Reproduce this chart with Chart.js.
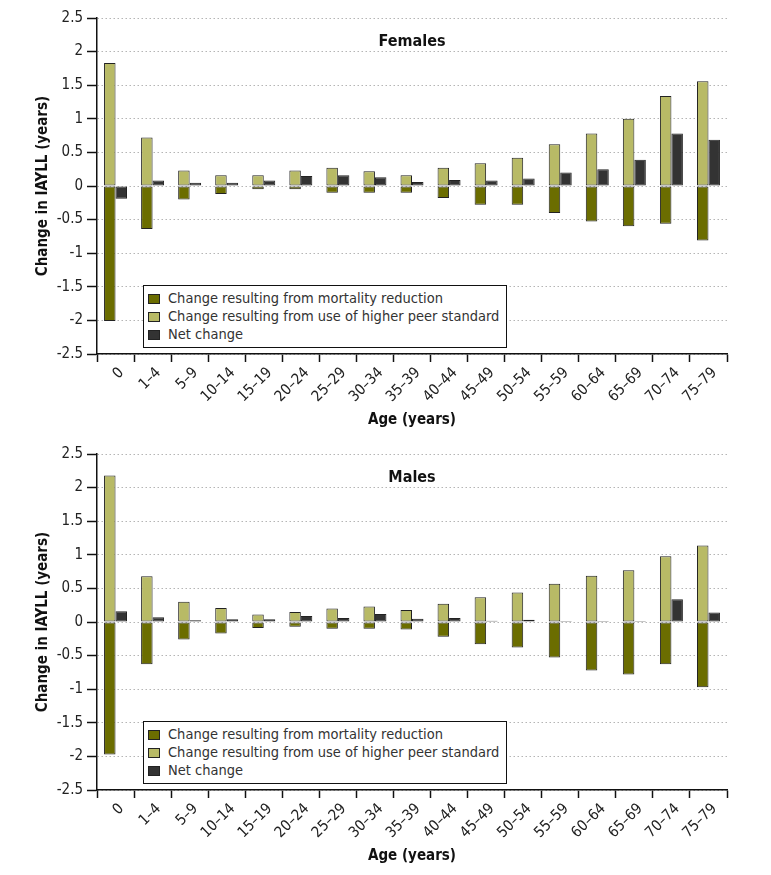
<!DOCTYPE html>
<html>
<head>
<meta charset="utf-8">
<script src="https://cdn.jsdelivr.net/npm/chart.js@4.4.1/dist/chart.umd.min.js"></script>
<style>
    body { margin: 0; background: #fff; width: 771px; height: 875px; position: relative; overflow: hidden; font-family: "Liberation Sans Narrow", "DejaVu Sans Condensed", "Open Sans", sans-serif; }
    .panel { position: absolute; left: 0; width: 771px; height: 434px; }
    .legenda { position: absolute; left: 143px; width: 358px; height: 58px; border: 1px solid #111; background: #fff; padding: 3px 0 0 4px; box-sizing: content-box; font-size: 14.5px; color: #333; }
    .legenda div { height: 18px; line-height: 18px; white-space: nowrap; }
    .legenda span { display: inline-block; width: 10px; height: 8px; border: 1px solid #222; margin-right: 8px; vertical-align: -1px; }
</style>
</head>
<body>
<div class="panel" style="top:0"><canvas id="chartFemales"></canvas></div>
<div class="panel" style="top:436px"><canvas id="chartMales"></canvas></div>
<div class="legenda" style="top:285px">
    <div><span style="background:#6b6d00"></span>Change resulting from mortality reduction</div>
    <div><span style="background:#b8ba66"></span>Change resulting from use of higher peer standard</div>
    <div><span style="background:#333333"></span>Net change</div>
</div>
<div class="legenda" style="top:721px">
    <div><span style="background:#6b6d00"></span>Change resulting from mortality reduction</div>
    <div><span style="background:#b8ba66"></span>Change resulting from use of higher peer standard</div>
    <div><span style="background:#333333"></span>Net change</div>
</div>
<script>
const ageGroups = ["0", "1–4", "5–9", "10–14", "15–19", "20–24", "25–29", "30–34", "35–39", "40–44", "45–49", "50–54", "55–59", "60–64", "65–69", "70–74", "75–79"];

const femalesMortality = [-2.01, -0.64, -0.20, -0.12, -0.05, -0.05, -0.10, -0.10, -0.10, -0.18, -0.28, -0.28, -0.40, -0.53, -0.60, -0.56, -0.81];
const femalesPeer = [1.83, 0.72, 0.23, 0.16, 0.16, 0.23, 0.27, 0.22, 0.16, 0.27, 0.34, 0.42, 0.62, 0.78, 1.00, 1.34, 1.56];
const femalesNet = [-0.19, 0.08, 0.05, 0.05, 0.08, 0.15, 0.16, 0.13, 0.06, 0.09, 0.08, 0.11, 0.20, 0.25, 0.39, 0.78, 0.69];

const malesMortality = [-1.97, -0.63, -0.26, -0.17, -0.09, -0.07, -0.10, -0.10, -0.11, -0.22, -0.33, -0.38, -0.53, -0.72, -0.78, -0.63, -0.97];
const malesPeer = [2.18, 0.68, 0.30, 0.21, 0.11, 0.15, 0.20, 0.23, 0.18, 0.27, 0.37, 0.44, 0.57, 0.69, 0.77, 0.98, 1.14];
const malesNet = [0.16, 0.07, 0.025, 0.04, 0.04, 0.09, 0.06, 0.12, 0.05, 0.06, 0.02, 0.035, 0.015, 0.015, 0.015, 0.34, 0.14];

const seriesNames = ["Change resulting from mortality reduction", "Change resulting from use of higher peer standard", "Net change"];

document.addEventListener("DOMContentLoaded", () => {
    const font = '"Liberation Sans Narrow", "DejaVu Sans Condensed", "Open Sans", sans-serif';

    //naslov unutar grafa (Females / Males)
    const panelTitle = {
        id: "panelTitle",
        afterDraw(chart, args, opts) {
            const { ctx, chartArea } = chart;
            ctx.save();
            ctx.font = `bold 16px ${font}`;
            ctx.fillStyle = "#111";
            ctx.textAlign = "center";
            ctx.textBaseline = "middle";
            ctx.fillText(opts.text, (chartArea.left + chartArea.right) / 2, chartArea.top + 24);
            ctx.restore();
        },
    };

    function napraviGraf(id, naslov, mortality, peer, net) {
        const barStyle = { borderColor: "#222", borderWidth: 1, borderSkipped: false, categoryPercentage: 0.62, barPercentage: 1 };
        new Chart(document.getElementById(id), {
            type: "bar",
            data: {
                labels: ageGroups,
                datasets: [
                    { label: seriesNames[0], data: mortality, backgroundColor: "#6b6d00", stack: "a", ...barStyle },
                    { label: seriesNames[1], data: peer, backgroundColor: "#b8ba66", stack: "a", ...barStyle },
                    { label: seriesNames[2], data: net, backgroundColor: "#333333", stack: "b", ...barStyle },
                ],
            },
            plugins: [panelTitle],
            options: {
                responsive: true,
                maintainAspectRatio: false,
                animation: false,
                layout: { padding: { top: 18, right: 44, left: 0, bottom: 0 } },
                plugins: {
                    legend: { display: false },
                    tooltip: { enabled: false },
                    panelTitle: { text: naslov },
                },
                scales: {
                    x: {
                        stacked: true,
                        afterFit: (scale) => { scale.height = 80; },
                        grid: { display: true, offset: true, drawOnChartArea: false, tickLength: 8, tickColor: "#111", tickWidth: 1.5 },
                        border: { color: "#111", width: 1.5 },
                        ticks: { color: "#222", font: { family: font, size: 15 }, minRotation: 45, maxRotation: 45, padding: 2, labelOffset: 6 },
                        title: { display: true, text: "Age (years)", color: "#111", font: { family: font, size: 15, weight: "bold" }, padding: { top: 4, bottom: 5 } },
                    },
                    y: {
                        stacked: true,
                        min: -2.5,
                        max: 2.5,
                        afterFit: (scale) => { scale.width = 97; },
                        grid: { color: "#b5b5b5", lineWidth: 1, tickLength: 10, tickColor: "#111", tickWidth: 1.5 },
                        border: { color: "#111", width: 1.5, dash: [1.5, 2.5] },
                        ticks: { stepSize: 0.5, color: "#222", font: { family: font, size: 15 }, padding: 4, callback: (v) => String(v) },
                        title: { display: true, text: "Change in IAYLL (years)", color: "#111", font: { family: font, size: 15, weight: "bold" }, padding: { top: 34, bottom: 0 } },
                    },
                },
            },
        });
    }

    napraviGraf("chartFemales", "Females", femalesMortality, femalesPeer, femalesNet);
    napraviGraf("chartMales", "Males", malesMortality, malesPeer, malesNet);
});
</script>
</body>
</html>
